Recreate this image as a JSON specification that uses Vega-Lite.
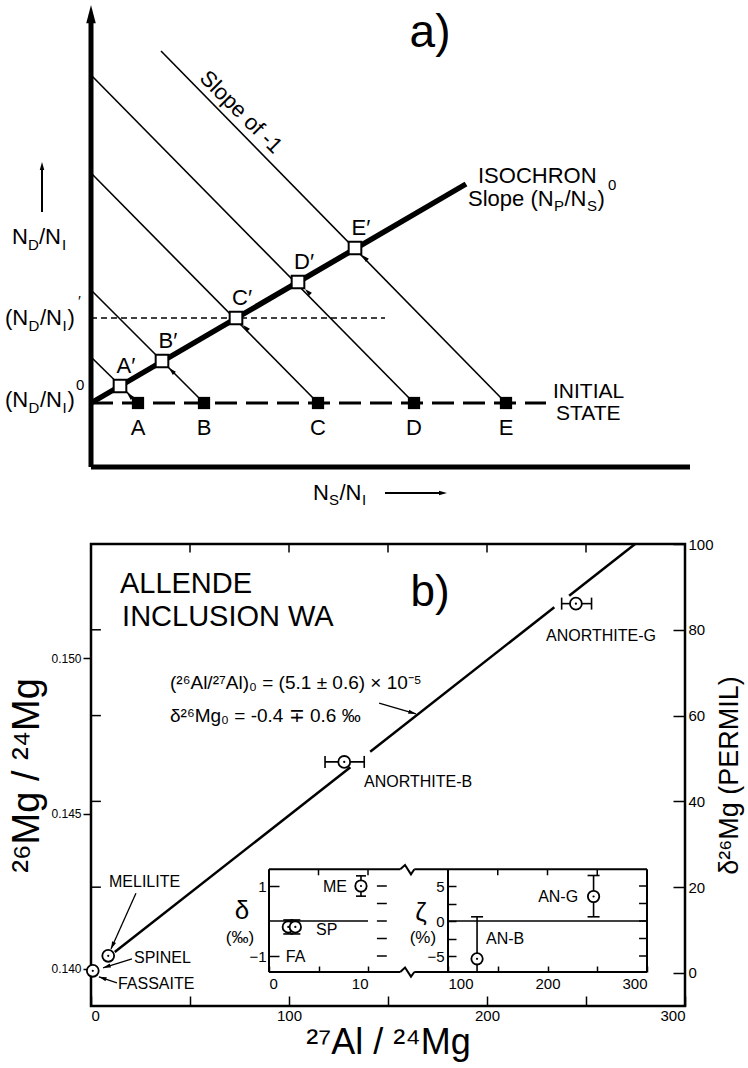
{
 "$schema": "https://vega.github.io/schema/vega-lite/v6.json",
 "background": "white",
 "padding": 5,
 "spacing": 27,
 "config": {
  "view": {"stroke": null},
  "font": "Liberation Sans",
  "axis": {"labelColor": "black", "titleColor": "black", "tickColor": "black", "domainColor": "black", "labelFont": "Liberation Sans", "titleFont": "Liberation Sans", "titleFontWeight": "normal", "grid": false, "tickWidth": 1.5, "labelFontSize": 15}
 },
 "datasets": {
  "a_seg": [{"x": 0, "y": 110, "x2": 47, "y2": 64}, {"x": 0, "y": 177, "x2": 113, "y2": 64}, {"x": 0, "y": 294, "x2": 227, "y2": 64}, {"x": 0, "y": 392, "x2": 323, "y2": 64}, {"x": 70, "y": 416, "x2": 415, "y2": 64}],
  "a_iso": [{"x": 0, "y": 64, "x2": 375, "y2": 283}],
  "a_open": [{"lab": "A′", "x": 29, "y": 81}, {"lab": "B′", "x": 71, "y": 106}, {"lab": "C′", "x": 145, "y": 149}, {"lab": "D′", "x": 207, "y": 185}, {"lab": "E′", "x": 264, "y": 219}],
  "a_filled": [{"lab": "A", "x": 47, "y": 64}, {"lab": "B", "x": 113, "y": 64}, {"lab": "C", "x": 227, "y": 64}, {"lab": "D", "x": 323, "y": 64}, {"lab": "E", "x": 415, "y": 64}],
  "a_dash1": [{"x": 0, "y": 149, "x2": 294}],
  "a_dash2": [{"x": 0, "y": 64, "x2": 455}],
  "a_axes": [{"x": 0, "y": 0, "x2": 599, "y2": 0}, {"x": 0, "y": 0, "x2": 0, "y2": 447}],
  "a_tipbig": [{"x": 0, "y": 462}],
  "a_tipsmall": [{"x": -49, "y": 305, "a": 0}, {"x": 356, "y": -26, "a": 90}],
  "a_shafts": [{"x": -49, "y": 255, "x2": -49, "y2": 298}, {"x": 294, "y": -26, "x2": 349, "y2": -26}],
  "a_main": [
   {"t": "ISOCHRON", "x": 387, "y": 291}, {"t": "Slope (N", "x": 377, "y": 268}, {"t": "/N", "x": 473.5, "y": 268}, {"t": ")", "x": 506.5, "y": 268},
   {"t": "N", "x": -79, "y": 230}, {"t": "/N", "x": -52, "y": 230},
   {"t": "(N", "x": -86, "y": 149}, {"t": "/N", "x": -51, "y": 149}, {"t": ")", "x": -23.5, "y": 149},
   {"t": "(N", "x": -86, "y": 67}, {"t": "/N", "x": -51, "y": 67}, {"t": ")", "x": -23.5, "y": 67},
   {"t": "N", "x": 222, "y": -26}, {"t": "/N", "x": 248.5, "y": -26}
  ],
  "a_state": [{"t": "INITIAL", "x": 462, "y": 75}, {"t": "STATE", "x": 465, "y": 53}],
  "a_sub": [
   {"t": "P", "x": 463, "y": 261}, {"t": "S", "x": 496, "y": 261},
   {"t": "D", "x": -63, "y": 222}, {"t": "I", "x": -29, "y": 222},
   {"t": "D", "x": -62.5, "y": 141}, {"t": "I", "x": -28.5, "y": 141},
   {"t": "D", "x": -62.5, "y": 59}, {"t": "I", "x": -28.5, "y": 59},
   {"t": "S", "x": 238, "y": -33}, {"t": "I", "x": 271, "y": -33}
  ],
  "a_sup": [{"t": "0", "x": 517, "y": 282}, {"t": "′", "x": -13, "y": 166}, {"t": "0", "x": -15, "y": 82}],
  "a_huge": [{"t": "a)", "x": 339, "y": 434}],
  "a_rot": [{"t": "Slope of -1", "x": 150, "y": 355}],
  "b_line": [{"x": 12, "y": 4.88, "x2": 131, "y2": 47.96}, {"x": 141, "y": 51.58, "x2": 234, "y2": 85.25}, {"x": 241.5, "y": 87.96, "x2": 274.8, "y2": 100}],
  "b_ptr": [{"x": 145.5, "y": 62.9, "x2": 164.1, "y2": 60.4}, {"x": 22.7, "y": 18.6, "x2": 10.1, "y2": 5.6}, {"x": 20.7, "y": 3.3, "x2": 6.1, "y2": 1.2}, {"x": 13.1, "y": -2.3, "x2": 4.0, "y2": -0.9}],
  "b_tips": [{"x": 164.1, "y": 60.4, "a": 106.6}, {"x": 10.1, "y": 5.6, "a": 204}, {"x": 6.1, "y": 1.2, "a": 252.8}, {"x": 4.0, "y": -0.9, "a": 288.4}],
  "b_err": [{"x": 118.2, "x2": 138.0, "y": 49.2}, {"x": 237.7, "x2": 252.8, "y": 86.1}],
  "b_caps": [{"x": 118.2, "y": 49.2}, {"x": 138.0, "y": 49.2}, {"x": 237.7, "y": 86.1}, {"x": 252.8, "y": 86.1}],
  "b_pts": [{"n": "FASSAITE", "x": 0.9, "y": 0.5}, {"n": "MELILITE", "x": 8.7, "y": 4.0}, {"n": "ANORTHITE-B", "x": 127.9, "y": 49.2}, {"n": "ANORTHITE-G", "x": 244.9, "y": 86.1}],
  "b_ttop": [{"x": 50, "y": 100, "y2": 98}, {"x": 100, "y": 100, "y2": 98}, {"x": 150, "y": 100, "y2": 98}, {"x": 200, "y": 100, "y2": 98}, {"x": 250, "y": 100, "y2": 98}],
  "b_tleft": [{"x": 0, "x2": 5, "y": 20}, {"x": 0, "x2": 5, "y": 40}, {"x": 0, "x2": 5, "y": 60}, {"x": 0, "x2": 5, "y": 80}],
  "b_big": [{"t": "ALLENDE", "x": 14.6, "y": 90.6}, {"t": "INCLUSION WA", "x": 15.7, "y": 83.0}],
  "b_panel": [{"t": "b)", "x": 171.2, "y": 88.6}],
  "b_formula": [{"t": "(²⁶Al/²⁷Al)₀ = (5.1 ± 0.6) × 10⁻⁵", "x": 39.9, "y": 67.6}, {"t": "δ²⁶Mg₀ = -0.4 ∓ 0.6 ‰", "x": 39.9, "y": 59.9}],
  "b_lab": [{"t": "ANORTHITE-G", "x": 229.8, "y": 78.6}, {"t": "ANORTHITE-B", "x": 137.9, "y": 44.5}, {"t": "MELILITE", "x": 9.1, "y": 21.2}, {"t": "SPINEL", "x": 21.7, "y": 3.5}, {"t": "FASSAITE", "x": 13.6, "y": -2.6}],
  "b_ratio": [{"r": 0.14}],
  "il_rules": [{"x": 0, "y": 1.477, "x2": 13.26, "y2": 1.477}, {"x": 0, "y": -1.457, "x2": 13.26, "y2": -1.457}, {"x": 0, "y": -1.457, "x2": 0, "y2": 1.477}],
  "il_zero": [{"x": 0, "y": 0, "x2": 10, "y2": 0}],
  "il_zig": [{"g": "t", "o": 1, "x": 13.26, "y": 1.477}, {"g": "t", "o": 2, "x": 13.74, "y": 1.6}, {"g": "t", "o": 3, "x": 14.34, "y": 1.333}, {"g": "t", "o": 4, "x": 14.68, "y": 1.477}, {"g": "b", "o": 1, "x": 13.26, "y": -1.457}, {"g": "b", "o": 2, "x": 13.74, "y": -1.33}, {"g": "b", "o": 3, "x": 14.34, "y": -1.59}, {"g": "b", "o": 4, "x": 14.68, "y": -1.457}],
  "il_dash": [{"x": 10.9, "x2": 11.9, "y": 1}, {"x": 10.9, "x2": 11.9, "y": 0.5}, {"x": 10.9, "x2": 11.9, "y": 0}, {"x": 10.9, "x2": 11.9, "y": -0.5}, {"x": 10.9, "x2": 11.9, "y": -1}],
  "il_tt": [{"x": 5, "y": 1.477, "y2": 1.306}, {"x": 10, "y": 1.477, "y2": 1.306}],
  "il_err": [{"x": 9.29, "y": 0.71, "y2": 1.29}, {"x": 1.95, "y": -0.37, "y2": 0.03}, {"x": 2.66, "y": -0.37, "y2": 0.03}],
  "il_caps": [{"x": 9.29, "y": 0.71}, {"x": 9.29, "y": 1.29}, {"x": 1.95, "y": -0.37}, {"x": 1.95, "y": 0.03}, {"x": 2.66, "y": -0.37}, {"x": 2.66, "y": 0.03}],
  "il_pts": [{"n": "ME", "x": 9.29, "y": 1.0}, {"n": "FA", "x": 1.95, "y": -0.17}, {"n": "SP", "x": 2.66, "y": -0.17}],
  "il_lab": [{"t": "ME", "x": 5.45, "y": 0.97}, {"t": "SP", "x": 4.75, "y": -0.26}, {"t": "FA", "x": 1.7, "y": -1.03}],
  "il_greek": [{"t": "δ", "x": -2.73, "y": 0.29}],
  "il_unit": [{"t": "(‰)", "x": -2.93, "y": -0.49}],
  "ir_rules": [{"x": 66.1, "y": 7.39, "x2": 300, "y2": 7.39}, {"x": 66.1, "y": -7.29, "x2": 300, "y2": -7.29}, {"x": 100, "y": -7.29, "x2": 100, "y2": 7.39}, {"x": 300, "y": -7.29, "x2": 300, "y2": 7.39}],
  "ir_zero": [{"x": 100, "y": 0, "x2": 300, "y2": 0}],
  "ir_rt": [{"x": 292, "x2": 300, "y": -5}, {"x": 292, "x2": 300, "y": -2.5}, {"x": 292, "x2": 300, "y": 0}, {"x": 292, "x2": 300, "y": 2.5}, {"x": 292, "x2": 300, "y": 5}],
  "ir_tt": [{"x": 150, "y": 7.39, "y2": 6.53}, {"x": 200, "y": 7.39, "y2": 6.53}, {"x": 250, "y": 7.39, "y2": 6.53}],
  "ir_err": [{"x": 129.2, "y": -7.29, "y2": 0.6}, {"x": 246.3, "y": 0.6, "y2": 6.5}],
  "ir_caps": [{"x": 129.2, "y": 0.6}, {"x": 246.3, "y": 0.6}, {"x": 246.3, "y": 6.5}],
  "ir_pts": [{"n": "AN-B", "x": 129.2, "y": -5.4}, {"n": "AN-G", "x": 246.3, "y": 3.5}],
  "ir_lab": [{"t": "AN-G", "x": 190.6, "y": 3.43}, {"t": "AN-B", "x": 138.2, "y": -2.57}],
  "ir_greek": [{"t": "ζ", "x": 72.8, "y": 1.14}],
  "ir_unit": [{"t": "(%)", "x": 74.8, "y": -2.43}]
 },
 "vconcat": [
  {
   "width": 599,
   "height": 459,
   "encoding": {
    "x": {"field": "x", "type": "quantitative", "scale": {"domain": [0, 599], "nice": false, "zero": false}, "axis": null},
    "y": {"field": "y", "type": "quantitative", "scale": {"domain": [0, 459], "nice": false, "zero": false}, "axis": null}
   },
   "layer": [
    {"data": {"name": "a_dash2"}, "mark": {"type": "rule", "strokeWidth": 3, "strokeDash": [22, 9], "color": "black"}, "encoding": {"x2": {"field": "x2"}}},
    {"data": {"name": "a_dash1"}, "mark": {"type": "rule", "strokeWidth": 1.6, "strokeDash": [6, 4], "color": "black"}, "encoding": {"x2": {"field": "x2"}}},
    {"data": {"name": "a_seg"}, "mark": {"type": "rule", "strokeWidth": 1.6, "color": "black"}, "encoding": {"x2": {"field": "x2"}, "y2": {"field": "y2"}}},
    {"data": {"name": "a_iso"}, "mark": {"type": "rule", "strokeWidth": 5.5, "color": "black"}, "encoding": {"x2": {"field": "x2"}, "y2": {"field": "y2"}}},
    {"data": {"name": "a_axes"}, "mark": {"type": "rule", "strokeWidth": 5, "color": "black"}, "encoding": {"x2": {"field": "x2"}, "y2": {"field": "y2"}}},
    {"data": {"name": "a_shafts"}, "mark": {"type": "rule", "strokeWidth": 2, "color": "black"}, "encoding": {"x2": {"field": "x2"}, "y2": {"field": "y2"}}},
    {"data": {"name": "a_tipbig"}, "mark": {"type": "point", "shape": "M0,0L0.55,2.1L-0.55,2.1Z", "size": 300, "filled": true, "color": "black", "opacity": 1}},
    {"data": {"name": "a_tipsmall"}, "mark": {"type": "point", "shape": "M0,0L0.45,1.6L-0.45,1.6Z", "size": 100, "filled": true, "color": "black", "opacity": 1}, "encoding": {"angle": {"field": "a", "type": "quantitative", "scale": null}}},
    {"data": {"name": "a_open"}, "mark": {"type": "point", "shape": "M0,0L0.45,1.6L-0.45,1.6Z", "size": 90, "filled": true, "color": "black", "opacity": 1, "angle": -45, "xOffset": 7, "yOffset": 7}},
    {"data": {"name": "a_open"}, "mark": {"type": "point", "shape": "square", "size": 160, "filled": true, "fill": "white", "stroke": "black", "strokeWidth": 2, "opacity": 1}},
    {"data": {"name": "a_filled"}, "mark": {"type": "point", "shape": "square", "size": 150, "filled": true, "color": "black", "opacity": 1}},
    {"data": {"name": "a_open"}, "mark": {"type": "text", "fontSize": 22, "dx": 6, "dy": -20, "align": "center", "baseline": "middle"}, "encoding": {"text": {"field": "lab"}}},
    {"data": {"name": "a_filled"}, "mark": {"type": "text", "fontSize": 22, "dy": 25, "align": "center", "baseline": "middle"}, "encoding": {"text": {"field": "lab"}}},
    {"data": {"name": "a_main"}, "mark": {"type": "text", "fontSize": 22, "align": "left", "baseline": "middle"}, "encoding": {"text": {"field": "t"}}},
    {"data": {"name": "a_state"}, "mark": {"type": "text", "fontSize": 21, "align": "left", "baseline": "middle"}, "encoding": {"text": {"field": "t"}}},
    {"data": {"name": "a_sub"}, "mark": {"type": "text", "fontSize": 15, "align": "left", "baseline": "middle"}, "encoding": {"text": {"field": "t"}}},
    {"data": {"name": "a_sup"}, "mark": {"type": "text", "fontSize": 15, "align": "left", "baseline": "middle"}, "encoding": {"text": {"field": "t"}}},
    {"data": {"name": "a_huge"}, "mark": {"type": "text", "fontSize": 46, "align": "center", "baseline": "middle"}, "encoding": {"text": {"field": "t"}}},
    {"data": {"name": "a_rot"}, "mark": {"type": "text", "fontSize": 22, "angle": 45, "align": "center", "baseline": "middle"}, "encoding": {"text": {"field": "t"}}}
   ]
  },
  {
   "width": 594,
   "height": 462,
   "view": {"stroke": "black", "strokeWidth": 2.5},
   "resolve": {"scale": {"x": "independent", "y": "independent"}, "axis": {"x": "independent", "y": "independent"}},
   "layer": [
    {
     "encoding": {
      "x": {"field": "x", "type": "quantitative", "scale": {"domain": [0, 300], "nice": false, "zero": false},
            "axis": {"orient": "bottom", "values": [0, 50, 100, 150, 200, 250, 300], "labelExpr": "datum.value % 100 == 0 ? datum.label : ''", "tickSize": -10, "domain": false, "labelFontSize": 15, "labelPadding": 12, "title": "²⁷Al / ²⁴Mg", "titleFontSize": 36, "titlePadding": 2}},
      "y": {"field": "y", "type": "quantitative", "scale": {"domain": [-7.7, 100], "nice": false, "zero": false},
            "axis": {"orient": "right", "values": [0, 20, 40, 60, 80, 100], "tickSize": -12, "domain": false, "labelFontSize": 15, "labelPadding": 15, "title": "δ²⁶Mg   (PERMIL)", "titleFontSize": 27, "titleAngle": 270, "titleBaseline": "top", "titlePadding": 3}}
     },
     "layer": [
      {"data": {"name": "b_line"}, "mark": {"type": "rule", "strokeWidth": 2.5, "color": "black"}, "encoding": {"x2": {"field": "x2"}, "y2": {"field": "y2"}}},
      {"data": {"name": "b_ptr"}, "mark": {"type": "rule", "strokeWidth": 1.3, "color": "black"}, "encoding": {"x2": {"field": "x2"}, "y2": {"field": "y2"}}},
      {"data": {"name": "b_tips"}, "mark": {"type": "point", "shape": "M0,0L0.45,1.6L-0.45,1.6Z", "size": 90, "filled": true, "color": "black", "opacity": 1}, "encoding": {"angle": {"field": "a", "type": "quantitative", "scale": null}}},
      {"data": {"name": "b_ttop"}, "mark": {"type": "rule", "strokeWidth": 1.5, "color": "black"}, "encoding": {"y2": {"field": "y2"}}},
      {"data": {"name": "b_tleft"}, "mark": {"type": "rule", "strokeWidth": 1.5, "color": "black"}, "encoding": {"x2": {"field": "x2"}}},
      {"data": {"name": "b_err"}, "mark": {"type": "rule", "strokeWidth": 1.6, "color": "black"}, "encoding": {"x2": {"field": "x2"}}},
      {"data": {"name": "b_caps"}, "mark": {"type": "tick", "orient": "vertical", "size": 12, "thickness": 1.6, "color": "black", "opacity": 1}},
      {"data": {"name": "b_pts"}, "mark": {"type": "point", "shape": "circle", "size": 140, "filled": true, "fill": "white", "stroke": "black", "strokeWidth": 1.8, "opacity": 1}},
      {"data": {"name": "b_pts"}, "mark": {"type": "point", "shape": "circle", "size": 5, "filled": true, "color": "black", "opacity": 1}},
      {"data": {"name": "b_big"}, "mark": {"type": "text", "fontSize": 29, "align": "left", "baseline": "middle"}, "encoding": {"text": {"field": "t"}}},
      {"data": {"name": "b_panel"}, "mark": {"type": "text", "fontSize": 44, "align": "center", "baseline": "middle"}, "encoding": {"text": {"field": "t"}}},
      {"data": {"name": "b_formula"}, "mark": {"type": "text", "fontSize": 19, "align": "left", "baseline": "middle"}, "encoding": {"text": {"field": "t"}}},
      {"data": {"name": "b_lab"}, "mark": {"type": "text", "fontSize": 16, "align": "left", "baseline": "middle"}, "encoding": {"text": {"field": "t"}}}
     ]
    },
    {
     "data": {"name": "b_ratio"},
     "mark": {"type": "point", "opacity": 0},
     "encoding": {
      "y": {"field": "r", "type": "quantitative", "scale": {"domain": [0.13881, 0.153666], "nice": false, "zero": false},
            "axis": {"orient": "left", "values": [0.14, 0.145, 0.15], "format": ".3f", "tickSize": 8, "domain": false, "labelFontSize": 12, "labelPadding": 2, "title": "²⁶Mg / ²⁴Mg", "titleFontSize": 38, "titlePadding": 4}}
     }
    },
    {
     "encoding": {
      "x": {"field": "x", "type": "quantitative", "scale": {"domain": [0, 10], "range": [178, 277], "nice": false, "zero": false},
            "axis": {"orient": "bottom", "offset": -34, "values": [0, 5, 10], "labelExpr": "datum.value == 5 ? '' : datum.label", "tickSize": -6, "domain": false, "labelFontSize": 15, "labelPadding": 10, "title": null}},
      "y": {"field": "y", "type": "quantitative", "scale": {"domain": [-1, 1], "range": [412, 342], "nice": false, "zero": false},
            "axis": {"orient": "left", "offset": -178, "values": [-1, -0.5, 0, 0.5, 1], "format": "d", "labelExpr": "abs(datum.value) == 0.5 ? '' : datum.label", "tickSize": -10, "domain": false, "labelFontSize": 15, "labelPadding": 13, "title": null}}
     },
     "layer": [
      {"data": {"name": "il_rules"}, "mark": {"type": "rule", "strokeWidth": 2, "color": "black"}, "encoding": {"x2": {"field": "x2"}, "y2": {"field": "y2"}}},
      {"data": {"name": "il_zero"}, "mark": {"type": "rule", "strokeWidth": 1.5, "color": "black"}, "encoding": {"x2": {"field": "x2"}, "y2": {"field": "y2"}}},
      {"data": {"name": "il_zig"}, "mark": {"type": "line", "strokeWidth": 2, "color": "black"}, "encoding": {"detail": {"field": "g"}, "order": {"field": "o"}}},
      {"data": {"name": "il_dash"}, "mark": {"type": "rule", "strokeWidth": 1.5, "color": "black"}, "encoding": {"x2": {"field": "x2"}}},
      {"data": {"name": "il_tt"}, "mark": {"type": "rule", "strokeWidth": 1.5, "color": "black"}, "encoding": {"y2": {"field": "y2"}}},
      {"data": {"name": "il_err"}, "mark": {"type": "rule", "strokeWidth": 1.6, "color": "black"}, "encoding": {"y2": {"field": "y2"}}},
      {"data": {"name": "il_caps"}, "mark": {"type": "tick", "orient": "horizontal", "size": 10, "thickness": 1.6, "color": "black", "opacity": 1}},
      {"data": {"name": "il_pts"}, "mark": {"type": "point", "shape": "circle", "size": 130, "filled": true, "fill": "white", "stroke": "black", "strokeWidth": 1.8, "opacity": 1}},
      {"data": {"name": "il_pts"}, "mark": {"type": "point", "shape": "circle", "size": 5, "filled": true, "color": "black", "opacity": 1}},
      {"data": {"name": "il_lab"}, "mark": {"type": "text", "fontSize": 16, "align": "left", "baseline": "middle"}, "encoding": {"text": {"field": "t"}}},
      {"data": {"name": "il_greek"}, "mark": {"type": "text", "fontSize": 26, "align": "center", "baseline": "middle"}, "encoding": {"text": {"field": "t"}}},
      {"data": {"name": "il_unit"}, "mark": {"type": "text", "fontSize": 17, "align": "center", "baseline": "middle"}, "encoding": {"text": {"field": "t"}}}
     ]
    },
    {
     "encoding": {
      "x": {"field": "x", "type": "quantitative", "scale": {"domain": [100, 300], "range": [357, 556], "nice": false, "zero": false},
            "axis": {"orient": "bottom", "offset": -34, "values": [100, 150, 200, 250, 300], "labelExpr": "datum.value % 100 == 0 ? datum.label : ''", "tickSize": -6, "domain": false, "labelFontSize": 15, "labelPadding": 10, "title": null}},
      "y": {"field": "y", "type": "quantitative", "scale": {"domain": [-5, 5], "range": [412, 342], "nice": false, "zero": false},
            "axis": {"orient": "left", "offset": -357, "values": [-5, -2.5, 0, 2.5, 5], "format": "d", "labelExpr": "abs(datum.value) == 2.5 ? '' : datum.label", "tickSize": -8, "domain": false, "labelFontSize": 15, "labelPadding": 12, "title": null}}
     },
     "layer": [
      {"data": {"name": "ir_rules"}, "mark": {"type": "rule", "strokeWidth": 2, "color": "black"}, "encoding": {"x2": {"field": "x2"}, "y2": {"field": "y2"}}},
      {"data": {"name": "ir_zero"}, "mark": {"type": "rule", "strokeWidth": 1.5, "color": "black"}, "encoding": {"x2": {"field": "x2"}, "y2": {"field": "y2"}}},
      {"data": {"name": "ir_rt"}, "mark": {"type": "rule", "strokeWidth": 1.5, "color": "black"}, "encoding": {"x2": {"field": "x2"}}},
      {"data": {"name": "ir_tt"}, "mark": {"type": "rule", "strokeWidth": 1.5, "color": "black"}, "encoding": {"y2": {"field": "y2"}}},
      {"data": {"name": "ir_err"}, "mark": {"type": "rule", "strokeWidth": 1.6, "color": "black"}, "encoding": {"y2": {"field": "y2"}}},
      {"data": {"name": "ir_caps"}, "mark": {"type": "tick", "orient": "horizontal", "size": 12, "thickness": 1.6, "color": "black", "opacity": 1}},
      {"data": {"name": "ir_pts"}, "mark": {"type": "point", "shape": "circle", "size": 130, "filled": true, "fill": "white", "stroke": "black", "strokeWidth": 1.8, "opacity": 1}},
      {"data": {"name": "ir_pts"}, "mark": {"type": "point", "shape": "circle", "size": 5, "filled": true, "color": "black", "opacity": 1}},
      {"data": {"name": "ir_lab"}, "mark": {"type": "text", "fontSize": 16, "align": "left", "baseline": "middle"}, "encoding": {"text": {"field": "t"}}},
      {"data": {"name": "ir_greek"}, "mark": {"type": "text", "fontSize": 26, "align": "center", "baseline": "middle"}, "encoding": {"text": {"field": "t"}}},
      {"data": {"name": "ir_unit"}, "mark": {"type": "text", "fontSize": 17, "align": "center", "baseline": "middle"}, "encoding": {"text": {"field": "t"}}}
     ]
    }
   ]
  }
 ]
}
